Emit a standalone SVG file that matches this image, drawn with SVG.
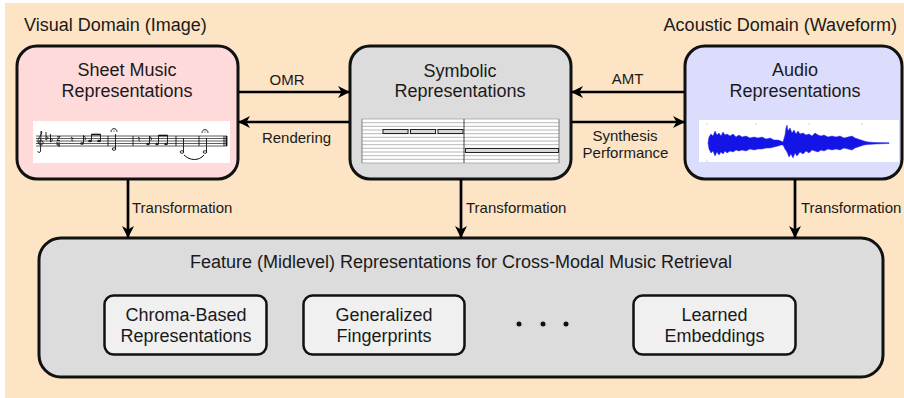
<svg xmlns="http://www.w3.org/2000/svg" width="904" height="398" viewBox="0 0 904 398">
<defs>
<style>
text{font-family:"Liberation Sans",Arial,sans-serif;fill:#1a1a1a}
.t18{font-size:18px}
.t15{font-size:15px}
.mid{text-anchor:middle}
.box{stroke:#111;stroke-width:3}
.sub{fill:#f0f0f0;stroke:#111;stroke-width:2.5}
.conn{stroke:#000;stroke-width:2.7;fill:none}
.staff{stroke:#333;stroke-width:0.8}
.mus{stroke:#111;stroke-width:0.9;fill:none}
.roll{stroke:#999;stroke-width:0.7}
.note{fill:#d8d8d8;stroke:#222;stroke-width:1}
</style>
<marker id="ah" markerUnits="userSpaceOnUse" markerWidth="14" markerHeight="14" refX="12" refY="6.5" orient="auto">
<path d="M0,0.5 L12,6.5 L0,12.5 L3.5,6.5 Z" fill="#000"/>
</marker>
</defs>
<rect x="5" y="3" width="899" height="395" fill="#fce4c4"/>
<text class="t18" x="24" y="31">Visual Domain (Image)</text>
<text class="t18" x="897" y="31" text-anchor="end">Acoustic Domain (Waveform)</text>

<g id="sheet">
<rect class="box" x="17" y="46" width="221" height="133" rx="20" fill="#ffdada"/>
<text class="t18 mid" x="127" y="76">Sheet Music</text>
<text class="t18 mid" x="127" y="97">Representations</text>
<rect x="33" y="121" width="197" height="42" fill="#fff"/>
<g class="staff">
<line x1="36" y1="136" x2="227" y2="136"/><line x1="36" y1="138.5" x2="227" y2="138.5"/><line x1="36" y1="141" x2="227" y2="141"/><line x1="36" y1="143.5" x2="227" y2="143.5"/><line x1="36" y1="146" x2="227" y2="146"/>
</g>
<g class="mus">
<path d="M41,131 C44,133 38,137 38,141 C38,146 44,146 43,142 C42,139 38,140 39.5,143.5 M41,131 L40.5,151 C40.5,153 37.5,153 38,151"/>
<path d="M46,132 L46,140 C48,139 49,137 46,136.5 M50.5,134 L50.5,142 C52.5,141 53.5,139 50.5,138.5"/>
<path d="M57,137 L60,136.5 L57,140.5 L60,140.5 M57,142 L57,145 L60,145 M59,142 L59,147" stroke-width="0.9"/>
<path d="M71,137 L73,138.5 L71.5,140 L73,141.5"/>
<line x1="108" y1="136" x2="108" y2="146"/><line x1="133" y1="136" x2="133" y2="146"/><line x1="176" y1="136" x2="176" y2="146"/><line x1="199" y1="136" x2="199" y2="146"/>
<line x1="224" y1="136" x2="224" y2="146"/><line x1="226.5" y1="136" x2="226.5" y2="146" stroke-width="1.8"/>
<line x1="83.5" y1="143.5" x2="83.5" y2="135.5"/><path d="M83.5,135.5 C85,137 86,138 85,140"/>
<line x1="91.5" y1="141" x2="91.5" y2="134"/><line x1="100.5" y1="141" x2="100.5" y2="134"/><line x1="91.5" y1="134.5" x2="100.5" y2="134.5" stroke-width="1.6"/>
<line x1="115.5" y1="149" x2="115.5" y2="134"/><ellipse cx="114" cy="149" rx="1.8" ry="1.3"/>
<path d="M111,132 C111,127.5 117,127.5 117,132"/>
<path d="M138,137 L140,138.5 L138.5,140 L140,141.5"/>
<line x1="149.5" y1="144" x2="149.5" y2="136"/><path d="M149.5,136 C151,137.5 152,138.5 151,140.5"/>
<line x1="158.5" y1="144" x2="158.5" y2="135"/><line x1="167.5" y1="144" x2="167.5" y2="135"/><line x1="158.5" y1="135.5" x2="167.5" y2="135.5" stroke-width="1.6"/>
<line x1="183.5" y1="152" x2="183.5" y2="138"/><ellipse cx="182" cy="152" rx="1.8" ry="1.3"/>
<line x1="206.5" y1="152" x2="206.5" y2="138"/><ellipse cx="205" cy="152" rx="1.8" ry="1.3"/>
<path d="M202,133 C202,128.5 208,128.5 208,133"/>
<path d="M184,155 C190,161 199,161 204,155" stroke-width="1"/>
</g>
<g fill="#222">
<ellipse cx="82" cy="143.5" rx="1.8" ry="1.3"/><ellipse cx="90" cy="141" rx="1.8" ry="1.3"/><ellipse cx="99" cy="141" rx="1.8" ry="1.3"/>
<ellipse cx="148" cy="144" rx="1.8" ry="1.3"/><ellipse cx="157" cy="144" rx="1.8" ry="1.3"/><ellipse cx="166" cy="144" rx="1.8" ry="1.3"/>
<circle cx="114" cy="131" r="0.6"/><circle cx="205" cy="132" r="0.6"/>
</g>
</g>

<g id="symbolic">
<rect class="box" x="350" y="46" width="221" height="133" rx="20" fill="#dcdcdc"/>
<text class="t18 mid" x="460" y="77">Symbolic</text>
<text class="t18 mid" x="460" y="97">Representations</text>
<rect x="362" y="119" width="197" height="44" fill="#fff"/>
<g class="roll">
<line x1="362" y1="119" x2="559" y2="119"/><line x1="362" y1="122.7" x2="559" y2="122.7"/><line x1="362" y1="126.3" x2="559" y2="126.3"/><line x1="362" y1="130" x2="559" y2="130"/><line x1="362" y1="133.7" x2="559" y2="133.7"/><line x1="362" y1="137.3" x2="559" y2="137.3"/><line x1="362" y1="141" x2="559" y2="141"/><line x1="362" y1="144.7" x2="559" y2="144.7"/><line x1="362" y1="148.3" x2="559" y2="148.3"/><line x1="362" y1="152" x2="559" y2="152"/><line x1="362" y1="155.7" x2="559" y2="155.7"/><line x1="362" y1="159.3" x2="559" y2="159.3"/><line x1="362" y1="163" x2="559" y2="163"/>
<line x1="362" y1="119" x2="362" y2="163" stroke="#555"/><line x1="559" y1="119" x2="559" y2="163" stroke="#555"/>
</g>
<line x1="464" y1="119" x2="464" y2="163" stroke="#333" stroke-width="0.9"/>
<rect class="note" x="383" y="129.5" width="25" height="4"/>
<rect class="note" x="410.5" y="129.5" width="25" height="4"/>
<rect class="note" x="438" y="129.5" width="25" height="4"/>
<rect class="note" x="465.5" y="148.5" width="93" height="4"/>
</g>

<g id="audio">
<rect class="box" x="685" y="46" width="217" height="133" rx="20" fill="#dcdcfc"/>
<text class="t18 mid" x="795" y="76">Audio</text>
<text class="t18 mid" x="795" y="97">Representations</text>
<rect x="699" y="120" width="200" height="42" fill="#fff"/>
<g fill="#999"><circle cx="707" cy="124" r="0.6"/><circle cx="756" cy="124" r="0.6"/><circle cx="809" cy="124" r="0.6"/><circle cx="862" cy="124" r="0.6"/><circle cx="707" cy="161" r="0.6"/></g>
<path fill="#1414e6" stroke="#2a2aee" stroke-width="0.5" d="M708,143 L709,137 L711,134 L713,136 L715,131 L717,135 L719,133 L721,136 L723,132 L725,135 L727,134 L730,136 L733,134 L736,137 L739,135 L742,137 L746,136 L750,138 L754,137 L758,138 L762,137 L766,139 L770,138 L774,140 L778,140 L781,141 L783,142 L785,135 L786,128 L787,125 L788,131 L790,128 L792,133 L794,130 L796,134 L798,131 L800,134 L803,133 L806,135 L809,134 L812,136 L815,133 L818,135 L821,136 L824,135 L828,137 L832,136 L836,137 L840,136 L844,138 L848,137 L852,136 L855,138 L858,139 L861,140 L864,141 L868,142 L875,142.5 L889,142.7 L889,143.5 L875,144 L868,144.5 L864,145 L861,146 L858,147 L855,148 L852,150 L848,149 L844,148 L840,150 L836,149 L832,150 L828,149 L824,151 L821,150 L818,152 L815,151 L812,150 L809,153 L806,151 L803,154 L800,152 L797,156 L795,153 L793,158 L791,154 L789,157 L787,152 L785,149 L783,145 L781,145 L778,146 L774,147 L770,148 L766,148 L762,149 L758,149 L754,150 L750,149 L746,151 L742,150 L739,151 L736,150 L733,152 L730,151 L727,153 L725,151 L723,154 L721,152 L719,155 L717,152 L715,156 L713,151 L711,153 L709,149 Z"/>
</g>

<g id="features">
<rect class="box" x="39" y="238" width="844" height="139" rx="22" fill="#dcdcdc"/>
<text class="t18 mid" x="461" y="268">Feature (Midlevel) Representations for Cross-Modal Music Retrieval</text>
</g>
<g id="chroma">
<rect class="sub" x="104.5" y="295.5" width="162" height="59" rx="9"/>
<text class="t18 mid" x="186" y="321">Chroma-Based</text>
<text class="t18 mid" x="186" y="342">Representations</text>
</g>
<g id="fingerprints">
<rect class="sub" x="303.5" y="295.5" width="161" height="59" rx="9"/>
<text class="t18 mid" x="384" y="321">Generalized</text>
<text class="t18 mid" x="384" y="342">Fingerprints</text>
</g>
<g id="dots" fill="#111">
<circle cx="519" cy="324" r="2.5"/><circle cx="543" cy="324" r="2.5"/><circle cx="566" cy="324" r="2.5"/>
</g>
<g id="embeddings">
<rect class="sub" x="633.5" y="295.5" width="162" height="59" rx="9"/>
<text class="t18 mid" x="714.5" y="321">Learned</text>
<text class="t18 mid" x="714.5" y="342">Embeddings</text>
</g>

<g id="connectors">
<line class="conn" x1="239" y1="92" x2="350" y2="92" marker-end="url(#ah)"/>
<line class="conn" x1="349" y1="122" x2="238" y2="122" marker-end="url(#ah)"/>
<line class="conn" x1="684" y1="92" x2="571" y2="92" marker-end="url(#ah)"/>
<line class="conn" x1="572" y1="122" x2="685" y2="122" marker-end="url(#ah)"/>
<line class="conn" x1="128" y1="180" x2="128" y2="238" marker-end="url(#ah)"/>
<line class="conn" x1="461" y1="179" x2="461" y2="238" marker-end="url(#ah)"/>
<line class="conn" x1="795" y1="179" x2="795" y2="238" marker-end="url(#ah)"/>
<text class="t15 mid" x="287" y="85">OMR</text>
<text class="t15 mid" x="296.5" y="143">Rendering</text>
<text class="t15 mid" x="627.5" y="84">AMT</text>
<text class="t15 mid" x="625" y="141">Synthesis</text>
<text class="t15 mid" x="625.5" y="158">Performance</text>
<text class="t15" x="132" y="213">Transformation</text>
<text class="t15" x="466" y="213">Transformation</text>
<text class="t15" x="801" y="213">Transformation</text>
</g>
</svg>
